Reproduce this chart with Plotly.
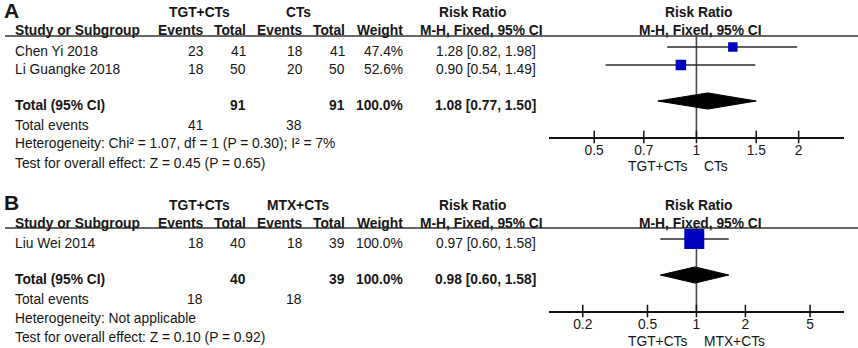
import math
import plotly.graph_objects as go

# ---------------- data ----------------
# Panel A
A_groups = ["TGT+CTs", "CTs"]
A_studies = ["Chen Yi 2018", "Li Guangke 2018"]
A_exp_events = [23, 18]
A_exp_total = [41, 50]
A_ctl_events = [18, 20]
A_ctl_total = [41, 50]
A_weight = [47.4, 52.6]
A_rr = [1.28, 0.90]
A_lo = [0.82, 0.54]
A_hi = [1.98, 1.49]
A_total = {"exp_total": 91, "ctl_total": 91, "weight": 100.0, "rr": 1.08, "lo": 0.77, "hi": 1.50,
           "exp_events": 41, "ctl_events": 38}
A_het = "Heterogeneity: Chi² = 1.07, df = 1 (P = 0.30); I² = 7%"
A_test = "Test for overall effect: Z = 0.45 (P = 0.65)"
A_ticks = [0.5, 0.7, 1, 1.5, 2]
A_tick_labels = ["0.5", "0.7", "1", "1.5", "2"]
A_range = [0.368, 2.72]

# Panel B
B_groups = ["TGT+CTs", "MTX+CTs"]
B_studies = ["Liu Wei 2014"]
B_exp_events = [18]
B_exp_total = [40]
B_ctl_events = [18]
B_ctl_total = [39]
B_weight = [100.0]
B_rr = [0.97]
B_lo = [0.60]
B_hi = [1.58]
B_total = {"exp_total": 40, "ctl_total": 39, "weight": 100.0, "rr": 0.98, "lo": 0.60, "hi": 1.58,
           "exp_events": 18, "ctl_events": 18}
B_het = "Heterogeneity: Not applicable"
B_test = "Test for overall effect: Z = 0.10 (P = 0.92)"
B_ticks = [0.2, 0.5, 1, 2, 5]
B_tick_labels = ["0.2", "0.5", "1", "2", "5"]
B_range = [0.124, 8.08]

# ---------------- layout helpers ----------------
W, H = 858, 348
FONT = "Liberation Sans, Arial, Helvetica, sans-serif"
FS = 13.8
TXT = "#161616"
BLUE = "#0000C0"


def px(x):
    return x / W


def py(y):
    return 1 - y / H


fig = go.Figure()
annotations = []
shapes = []


def text(x, y, s, anchor="left", bold=False, size=FS):
    if bold:
        s = "<b>" + s + "</b>"
    annotations.append(dict(x=px(x), y=py(y), xref="paper", yref="paper", text=s,
                            showarrow=False, xanchor=anchor, yanchor="middle",
                            font=dict(family=FONT, size=size, color=TXT)))


def fmt_ci(r, l, h):
    return f"{r:.2f} [{l:.2f}, {h:.2f}]"


def panel(label, groups, studies, ee, et, ce, ct, wt, rr, lo, hi, tot, het, test,
          ticks, tick_labels, xr, y0, ax):
    # y0: pixel y of the first study text row
    n = len(studies)
    top = y0 - 15
    total_y = y0 + 18 * (n + 1)
    bottom = total_y + 32
    # label and headers
    text(2, y0 - 41, label, bold=True, size=21)
    text(199, y0 - 38, groups[0], anchor="center", bold=True)
    text(298, y0 - 38, groups[1], anchor="center", bold=True)
    text(472, y0 - 38, "Risk Ratio", anchor="center", bold=True)
    text(698, y0 - 38, "Risk Ratio", anchor="center", bold=True)
    hy = y0 - 20
    text(13, hy, "Study or Subgroup", bold=True)
    for xr_, s in [(206, "Events"), (248, "Total"), (305, "Events"), (347, "Total"), (405, "Weight")]:
        text(xr_, hy, s, anchor="right", bold=True)
    text(545, hy, "M-H, Fixed, 95% CI", anchor="right", bold=True)
    text(700, hy, "M-H, Fixed, 95% CI", anchor="center", bold=True)
    shapes.append(dict(type="line", xref="paper", yref="paper", x0=px(5), x1=px(858),
                       y0=py(top), y1=py(top), line=dict(color="#333333", width=1.5)))
    # study rows
    for i in range(n):
        y = y0 + 18 * i
        text(13, y, studies[i])
        text(206, y, str(ee[i]), anchor="right")
        text(248, y, str(et[i]), anchor="right")
        text(305, y, str(ce[i]), anchor="right")
        text(347, y, str(ct[i]), anchor="right")
        text(405, y, f"{wt[i]:.1f}%", anchor="right")
        text(538, y, fmt_ci(rr[i], lo[i], hi[i]), anchor="right")
    # total rows
    text(13, total_y, "Total (95% CI)", bold=True)
    text(248, total_y, str(tot["exp_total"]), anchor="right", bold=True)
    text(347, total_y, str(tot["ctl_total"]), anchor="right", bold=True)
    text(405, total_y, f"{tot['weight']:.1f}%", anchor="right", bold=True)
    text(538, total_y, fmt_ci(tot["rr"], tot["lo"], tot["hi"]), anchor="right", bold=True)
    text(13, total_y + 20, "Total events")
    text(205, total_y + 20, str(tot["exp_events"]), anchor="right")
    text(304, total_y + 20, str(tot["ctl_events"]), anchor="right")
    text(13, total_y + 39, het)
    text(13, total_y + 58, test)

    # ---- forest plot axes ----
    xa = "x" if ax == 1 else "x2"
    ya = "y" if ax == 1 else "y2"
    row_of = lambda pix: 1 + (pix - (y0 - 4)) / 18.0
    yrange = [row_of(bottom), row_of(top)]
    rows = list(range(1, n + 1))
    trow = n + 2
    # CI lines
    for i in range(n):
        fig.add_trace(go.Scatter(x=[lo[i], hi[i]], y=[rows[i], rows[i]], mode="lines",
                                 line=dict(color="#2a2a2a", width=1.4), xaxis=xa, yaxis=ya,
                                 showlegend=False, hoverinfo="skip"))
    # squares sized by weight
    fig.add_trace(go.Scatter(x=rr, y=rows, mode="markers", xaxis=xa, yaxis=ya,
                             marker=dict(symbol="square", color=BLUE, opacity=1,
                                         size=[w / 100 * 20 for w in wt], line=dict(width=0)),
                             showlegend=False, cliponaxis=False))
    # diamond
    h = 0.45
    fig.add_trace(go.Scatter(x=[tot["lo"], tot["rr"], tot["hi"], tot["rr"], tot["lo"]],
                             y=[trow, trow - h, trow, trow + h, trow], mode="lines",
                             fill="toself", fillcolor="#000000", line=dict(color="#000000", width=1),
                             xaxis=xa, yaxis=ya, showlegend=False))
    # crossing ticks
    fig.add_trace(go.Scatter(x=ticks, y=[yrange[0]] * len(ticks), mode="markers", xaxis=xa, yaxis=ya,
                             marker=dict(symbol="line-ns", size=9, opacity=1,
                                         line=dict(color="#111111", width=1.5)),
                             showlegend=False, cliponaxis=False, hoverinfo="skip"))
    # null line
    shapes.append(dict(type="line", xref=xa, yref=ya + " domain", x0=1, x1=1, y0=0, y1=1,
                       layer="below", line=dict(color="#4a4a4a", width=1.6)))
    # favours labels
    for anch, s, sh in [("right", groups[0], -6), ("left", groups[1], 6)]:
        annotations.append(dict(x=0, y=py(bottom + 30), xref=xa, yref="paper", text=s,
                                showarrow=False, xanchor=anch, yanchor="middle", xshift=sh,
                                font=dict(family=FONT, size=FS, color=TXT)))
    xaxis = dict(type="log", range=[math.log10(xr[0]), math.log10(xr[1])],
                 domain=[px(549), px(844)], anchor=ya, showgrid=False, zeroline=False,
                 showline=True, linecolor="#111111", linewidth=1.5,
                 ticks="", tickvals=ticks, ticktext=tick_labels,
                 tickfont=dict(family=FONT, size=FS, color=TXT), fixedrange=True)
    yaxis = dict(range=yrange, domain=[py(bottom), py(top)], anchor=xa, visible=False,
                 fixedrange=True)
    return xaxis, yaxis


xA, yA = panel("A", A_groups, A_studies, A_exp_events, A_exp_total, A_ctl_events, A_ctl_total,
               A_weight, A_rr, A_lo, A_hi, A_total, A_het, A_test, A_ticks, A_tick_labels,
               A_range, 51, 1)
xB, yB = panel("B", B_groups, B_studies, B_exp_events, B_exp_total, B_ctl_events, B_ctl_total,
               B_weight, B_rr, B_lo, B_hi, B_total, B_het, B_test, B_ticks, B_tick_labels,
               B_range, 243, 2)

fig.update_layout(width=W, height=H, margin=dict(l=0, r=0, t=0, b=0),
                  paper_bgcolor="white", plot_bgcolor="white",
                  xaxis=xA, yaxis=yA, xaxis2=xB, yaxis2=yB,
                  annotations=annotations, shapes=shapes, showlegend=False,
                  font=dict(family=FONT, size=FS, color=TXT))

fig.write_html("out.html", config={"displayModeBar": False},
               post_script="document.body.style.margin='0';document.body.style.overflow='hidden';")
